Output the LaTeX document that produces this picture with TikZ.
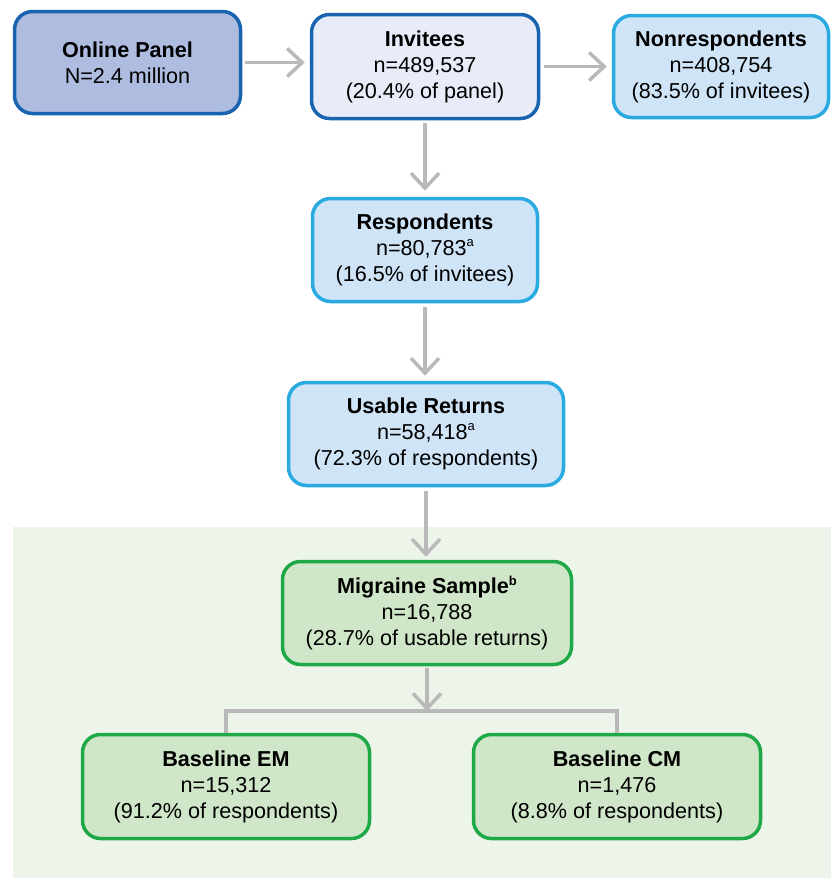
\documentclass[tikz,border=0pt]{standalone}
\usepackage{fontspec}
\setmainfont{Liberation Sans}
\usetikzlibrary{arrows.meta}
\definecolor{panelfill}{RGB}{174,188,224}
\definecolor{darkblue}{RGB}{24,100,176}
\definecolor{invfill}{RGB}{232,236,248}
\definecolor{lightfill}{RGB}{207,228,246}
\definecolor{lightblue}{RGB}{41,171,226}
\definecolor{greenfill}{RGB}{208,230,200}
\definecolor{greenline}{RGB}{30,168,70}
\definecolor{greenbg}{RGB}{237,244,234}
\definecolor{arrowgray}{RGB}{185,185,185}
\newcommand{\supa}[1]{\raisebox{0.4em}{\fontsize{13}{13}\selectfont #1}}
\tikzset{
  box/.style={draw, rounded corners=18pt, line width=3.5pt, align=center,
    inner sep=0pt, font=\fontsize{21.6}{26}\selectfont, text=black},
  dbox/.style={box, draw=darkblue},
  lbox/.style={box, draw=lightblue, fill=lightfill},
  gbox/.style={box, draw=greenline, fill=greenfill},
  flow/.style={draw=arrowgray, line width=3.5pt,
    -{Straight Barb[length=15pt,width=28pt]}},
  branch/.style={draw=arrowgray, line width=3.5pt}
}
\begin{document}
\begin{tikzpicture}[x=1pt,y=-1pt]
\useasboundingbox (0,0) rectangle (831,878);
\fill[greenbg] (13,527) rectangle (831,878);

\node[dbox, fill=panelfill, minimum width=226pt, minimum height=102pt] (panel) at (127.5,62.5)
  {\textbf{Online Panel}\\N=2.4 million};
\node[dbox, fill=invfill, minimum width=227pt, minimum height=104pt] (inv) at (425,66.5)
  {\textbf{Invitees}\\n=489,537\\(20.4\% of panel)};
\node[lbox, minimum width=215pt, minimum height=102pt] (nonresp) at (721,66.5)
  {\textbf{Nonrespondents}\\n=408,754\\(83.5\% of invitees)};
\node[lbox, minimum width=225pt, minimum height=103pt] (resp) at (425,250)
  {\textbf{Respondents}\\n=80,783\supa{a}\\(16.5\% of invitees)};
\node[lbox, minimum width=275pt, minimum height=103pt] (usable) at (426,434)
  {\textbf{Usable Returns}\\n=58,418\supa{a}\\(72.3\% of respondents)};
\node[gbox, minimum width=289pt, minimum height=103pt] (migr) at (427,613)
  {\textbf{Migraine Sample\supa{b}}\\n=16,788\\(28.7\% of usable returns)};
\node[gbox, minimum width=287pt, minimum height=104pt] (em) at (226,786.5)
  {\textbf{Baseline EM}\\n=15,312\\(91.2\% of respondents)};
\node[gbox, minimum width=287pt, minimum height=104pt] (cm) at (617,786.5)
  {\textbf{Baseline CM}\\n=1,476\\(8.8\% of respondents)};

\coordinate (split) at (427,711);

\draw[flow, shorten <=3pt, shorten >=5pt] (panel.east) -- (panel.east -| inv.west);
\draw[flow, shorten <=4pt, shorten >=5pt] (inv.east) -- (inv.east -| nonresp.west);
\draw[flow, shorten <=3pt, shorten >=6pt] (inv.south) -- (resp.north);
\draw[flow, shorten <=4pt, shorten >=5pt] (resp.south) -- (resp.south |- usable.north);
\draw[flow, shorten <=4pt, shorten >=3pt] (usable.south) -- (usable.south |- migr.north);
\draw[branch] (em.north) -- (em.north |- split) -- (cm.north |- split) -- (cm.north);
\draw[flow, shorten <=2pt] (migr.south) -- (split);
\end{tikzpicture}
\end{document}
